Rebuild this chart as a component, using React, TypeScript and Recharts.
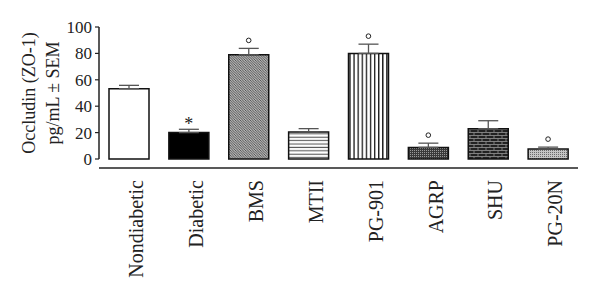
import React from 'react';
import {
  ComposedChart,
  Bar,
  Cell,
  ErrorBar,
  Scatter,
  XAxis,
  YAxis,
} from 'recharts';

const groups = ['Nondiabetic', 'Diabetic', 'BMS', 'MTII', 'PG-901', 'AGRP', 'SHU', 'PG-20N'];
const means = [53.3, 20, 79, 20.5, 80, 8.8, 23, 7.5];
const sems = [2.5, 2.5, 4.8, 2.5, 7, 3.2, 6, 1.5];
const marks = ['', '*', 'o', '', 'o', 'o', '', 'o'];
const yTicks = [0, 20, 40, 60, 80, 100];

const fills = [
  '#ffffff',
  '#000000',
  'url(#pDiag)',
  'url(#pHoriz)',
  'url(#pVert)',
  'url(#pDots)',
  'url(#pBrick)',
  'url(#pLight)',
];

const rows = groups.map((g, i) => ({
  name: g,
  value: means[i],
  err: [0, sems[i]],
  top: means[i] + sems[i],
  mark: marks[i],
}));

const FONT = '"Liberation Serif", "DejaVu Serif", serif';

function Patterns() {
  return (
    <svg width={0} height={0} style={{ position: 'absolute' }}>
      <defs>
        <pattern id="pDiag" patternUnits="userSpaceOnUse" width={2.5} height={2.5}>
          <rect width={2.5} height={2.5} fill="#e4e4e4" />
          <path d="M0,0 L2.5,2.5 M-1,1.5 L1,3.5 M1.5,-1 L3.5,1" stroke="#3a3a3a" strokeWidth={0.9} />
        </pattern>
        <pattern id="pHoriz" patternUnits="userSpaceOnUse" width={4} height={3.4}>
          <rect width={4} height={3.4} fill="#ffffff" />
          <line x1={0} y1={1.2} x2={4} y2={1.2} stroke="#555" strokeWidth={1.1} />
        </pattern>
        <pattern id="pVert" patternUnits="userSpaceOnUse" width={4.1} height={4}>
          <rect width={4.1} height={4} fill="#ffffff" />
          <line x1={1.5} y1={0} x2={1.5} y2={4} stroke="#111" strokeWidth={1.3} />
        </pattern>
        <pattern id="pDots" patternUnits="userSpaceOnUse" width={2} height={2}>
          <rect width={2} height={2} fill="#3a3a3a" />
          <rect width={1} height={1} fill="#9a9a9a" />
        </pattern>
        <pattern id="pBrick" patternUnits="userSpaceOnUse" width={8} height={6}>
          <rect width={8} height={6} fill="#222" />
          <path d="M0,0.5 H8 M0,3.5 H8 M2,0.5 V3.5 M6,3.5 V6.5" stroke="#8a8a8a" strokeWidth={0.9} />
        </pattern>
        <pattern id="pLight" patternUnits="userSpaceOnUse" width={2} height={2}>
          <rect width={2} height={2} fill="#c4c4c4" />
          <rect width={1} height={1} fill="#6a6a6a" />
        </pattern>
      </defs>
    </svg>
  );
}

function YLabel(props: any) {
  const vb = props.viewBox || {};
  const cy = vb.y + vb.height / 2;
  return (
    <g fontFamily={FONT} fontSize={18} fill="#222">
      <text x={29} y={cy} textAnchor="middle" dominantBaseline="central" transform={`rotate(-90 29 ${cy})`}>
        Occludin (ZO-1)
      </text>
      <text x={53} y={cy} textAnchor="middle" dominantBaseline="central" transform={`rotate(-90 53 ${cy})`}>
        pg/mL ± SEM
      </text>
    </g>
  );
}

function MarkShape(props: any) {
  const { cx, cy, payload } = props;
  if (!payload || !payload.mark) return null;
  if (payload.mark === '*') {
    return (
      <text x={cx} y={cy + 1} textAnchor="middle" fontFamily={FONT} fontSize={18} fill="#222">
        *
      </text>
    );
  }
  return <circle cx={cx} cy={cy - 8} r={2.3} fill="none" stroke="#222" strokeWidth={1} />;
}

export default function App() {
  return (
    <div style={{ position: 'absolute', left: 0, top: 0, background: '#fff' }}>
      <Patterns />
      <ComposedChart
        width={600}
        height={294}
        data={rows}
        margin={{ top: 27, right: 22, left: 0, bottom: 0 }}
      >
        <XAxis xAxisId={0} dataKey="name" axisLine={false} tickLine={false} tick={false} height={9} />
        <XAxis
          xAxisId="lbl"
          dataKey="name"
          height={126}
          axisLine={{ stroke: '#222', strokeWidth: 1.5 }}
          tickLine={false}
          interval={0}
          angle={-90}
          textAnchor="end"
          verticalAnchor="middle"
          tickMargin={6}
          tick={{ fontFamily: FONT, fontSize: 20, fill: '#222' }}
        />
        <YAxis
          domain={[0, 100]}
          ticks={yTicks}
          width={99}
          tickSize={4}
          tickMargin={3}
          axisLine={{ stroke: '#222', strokeWidth: 1.5 }}
          tickLine={{ stroke: '#222', strokeWidth: 1.2 }}
          tick={{ fontFamily: FONT, fontSize: 17, fill: '#222' }}
          label={{ content: <YLabel /> }}
        />
        <Bar dataKey="value" barSize={40} stroke="#111" strokeWidth={1.5} isAnimationActive={false}>
          {rows.map((r, i) => (
            <Cell key={r.name} fill={fills[i]} />
          ))}
          <ErrorBar dataKey="err" direction="y" width={10} stroke="#555" strokeWidth={1.3} />
        </Bar>
        <Scatter dataKey="top" shape={<MarkShape />} isAnimationActive={false} />
      </ComposedChart>
    </div>
  );
}
